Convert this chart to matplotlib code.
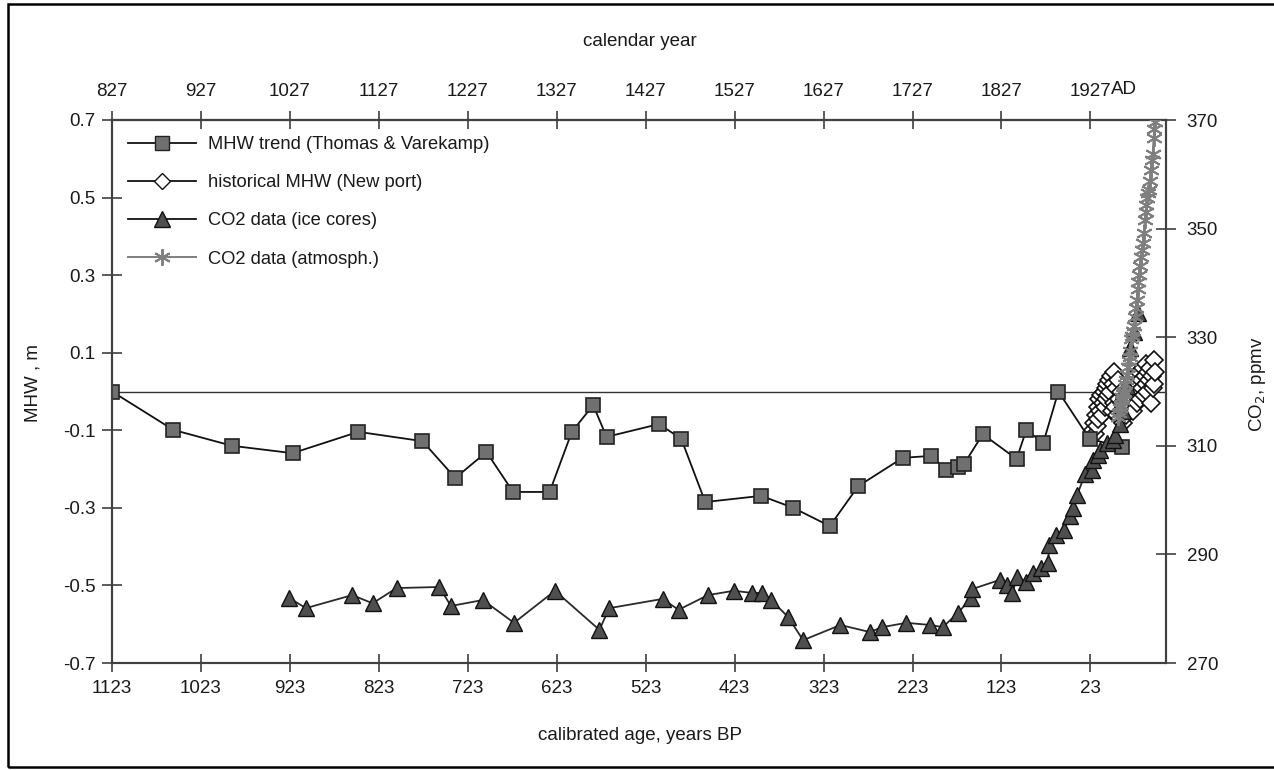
import matplotlib
matplotlib.use("Agg")
import matplotlib.pyplot as plt
from matplotlib.lines import Line2D
from matplotlib.patches import Rectangle

plt.rcParams['font.family'] = ['Liberation Sans', 'DejaVu Sans']

# MHW trend (Thomas & Varekamp): age BP, MHW (m)
trend_bp = [1123, 1054, 988, 920, 846, 774, 737, 702, 672, 631, 606, 582, 567,
            508, 483, 456, 393, 357, 316, 284, 234, 202, 185, 172, 165, 144,
            106, 95, 76, 59, 24, -12]
trend_mhw = [0.00, -0.099, -0.140, -0.159, -0.104, -0.128, -0.223, -0.156,
             -0.259, -0.259, -0.104, -0.035, -0.117, -0.084, -0.122, -0.285,
             -0.269, -0.300, -0.347, -0.244, -0.171, -0.166, -0.202, -0.195,
             -0.187, -0.110, -0.174, -0.099, -0.133, 0.000, -0.122, -0.143]

# historical MHW (Newport), 1930-2000
newport_year = list(range(1930, 2001))
newport_mhw = [-0.10, -0.08, -0.11, -0.06, -0.09, -0.04, -0.07, -0.02, -0.05, -0.01,
               -0.06, -0.03, 0.00, -0.04, 0.01, -0.02, 0.02, -0.01, 0.03, 0.00,
               0.04, -0.05, 0.02, -0.03, 0.05, -0.04, 0.01, -0.06, 0.03, -0.02,
               -0.07, 0.00, -0.05, -0.03, -0.08, -0.04, -0.02, -0.06, -0.01, -0.03,
               0.01, -0.04, 0.02, -0.02, 0.00, -0.05, 0.03, -0.01, 0.04, -0.03,
               0.02, 0.00, 0.05, -0.02, 0.03, 0.01, 0.06, -0.01, 0.04, 0.02,
               0.07, 0.00, 0.05, 0.03, 0.06, -0.03, 0.04, 0.01, 0.08, 0.02,
               0.05]

# CO2 data (ice cores): age BP, ppmv
ice_bp = [924, 905, 853, 830, 803, 755, 742, 706, 671, 625, 575, 564, 504, 486,
          453, 424, 403, 392, 382, 363, 346, 304, 271, 257, 230, 203, 189, 172,
          157, 156, 125, 117, 111, 105, 95, 87, 79, 71, 69, 62, 53, 46, 42, 38,
          29, 21, 20, 15, 12, 4, -2, -5, -10, -14, -18, -22, -26, -30]
ice_co2 = [282.0, 280.1, 282.5, 281.0, 283.8, 284.0, 280.5, 281.6, 277.4, 283.3,
           276.1, 280.1, 281.8, 279.8, 282.5, 283.3, 282.9, 282.9, 281.6, 278.5,
           274.2, 277.0, 275.7, 276.6, 277.4, 277.0, 276.6, 279.2, 282.0, 283.6,
           285.3, 284.4, 282.9, 285.8, 284.9, 286.6, 287.5, 288.4, 291.7, 293.6,
           294.5, 297.1, 298.5, 300.9, 304.8, 305.5, 307.4, 308.3, 309.2, 310.5,
           311.1, 312.0, 314.0, 316.5, 321.0, 328.0, 331.0, 334.5]

# CO2 data (atmospheric), 1958-2000
atm_year = list(range(1958, 2001))
atm_co2 = [315.3, 316.0, 316.9, 317.6, 318.5, 319.0, 319.6, 320.0, 321.4, 322.2,
           323.0, 324.6, 325.7, 326.3, 327.5, 329.7, 330.2, 331.1, 332.0, 333.8,
           335.4, 336.8, 338.8, 340.1, 341.5, 343.1, 344.7, 346.1, 347.4, 349.2,
           351.6, 353.1, 354.4, 355.6, 356.5, 357.1, 358.8, 360.8, 362.6, 363.7,
           366.7, 368.4, 369.6]

bp_ticks = [1123, 1023, 923, 823, 723, 623, 523, 423, 323, 223, 123, 23]
cal_ticks = [827, 927, 1027, 1127, 1227, 1327, 1427, 1527, 1627, 1727, 1827, 1927]
mhw_ticks = [-0.7, -0.5, -0.3, -0.1, 0.1, 0.3, 0.5, 0.7]
co2_ticks = [270, 290, 310, 330, 350, 370]


def main():
    W, H = 1274, 770
    fig = plt.figure(figsize=(W / 100, H / 100), dpi=100)
    ax = fig.add_axes([112 / W, 1 - 663 / H, (1166 - 112) / W, (663 - 120) / H])

    sq_face = '#707070'
    tri_face = '#4f4f4f'
    atm_col = '#7f7f7f'
    spine_col = '#404040'
    txt_col = '#1a1a1a'

    ax.axhline(0, color='#333333', lw=1.0, zorder=1)

    newport_bp = [1950 - y for y in newport_year]
    ax.plot(newport_bp, newport_mhw, ls='none', marker='D', ms=9, mfc='white',
            mec='#111111', mew=1.2, zorder=3)
    ax.plot(trend_bp, trend_mhw, color='#111111', lw=1.3, marker='s', ms=10,
            mfc=sq_face, mec='#222222', mew=1.2, zorder=4)

    ax.set_xlim(1123, -62)
    ax.set_ylim(-0.7, 0.7)
    ax.set_xticks(bp_ticks)
    ax.set_yticks(mhw_ticks)
    ax.set_yticklabels([f"{v:.1f}" for v in mhw_ticks])

    ax2 = ax.twinx()
    ax2.plot(ice_bp, ice_co2, color='#2a2a2a', lw=1.3, marker='^', ms=11,
             mfc=tri_face, mec='#111111', mew=1.0, zorder=3)
    atm_bp = [1950 - y for y in atm_year]
    ax2.plot(atm_bp, atm_co2, color=atm_col, lw=1.4, marker=(6, 2, 0), ms=12,
             mec=atm_col, mew=1.4, zorder=4)
    ax2.set_ylim(270, 370)
    ax2.set_yticks(co2_ticks)

    secax = ax.secondary_xaxis('top', functions=(lambda x: 1950 - x, lambda x: 1950 - x))
    secax.set_xticks(cal_ticks)

    for a in (ax, ax2, secax):
        for s in a.spines.values():
            s.set_color(spine_col)
            s.set_linewidth(1.5)

    ax.tick_params(axis='x', direction='inout', length=13, width=1.2, pad=6,
                   labelsize=13.5, color=spine_col, labelcolor=txt_col)
    ax.tick_params(axis='y', direction='inout', length=14, width=1.2, pad=5,
                   labelsize=13.5, color=spine_col, labelcolor=txt_col)
    ax2.tick_params(axis='y', direction='inout', length=14, width=1.2, pad=8,
                    labelsize=13.5, color=spine_col, labelcolor=txt_col)
    secax.tick_params(axis='x', direction='inout', length=13, width=1.2, pad=8,
                      labelsize=13.5, color=spine_col, labelcolor=txt_col)

    fig.text(1111 / W, 1 - 90 / H, "AD", ha='left', va='center', fontsize=13.5,
             color=txt_col)
    fig.text(640 / W, 1 - 42 / H, "calendar year", ha='center', va='center',
             fontsize=13.5, color=txt_col)
    fig.text(640 / W, 1 - 735 / H, "calibrated age, years BP", ha='center',
             va='center', fontsize=13.5, color=txt_col)
    fig.text(33 / W, 1 - 383 / H, "MHW , m", ha='center', va='center', rotation=90,
             fontsize=13.5, color=txt_col)
    fig.text(1257 / W, 1 - 384 / H, "CO$_2$, ppmv", ha='center', va='center',
             rotation=90, fontsize=13.5, color=txt_col)

    handles = [
        Line2D([], [], color='#111111', lw=1.3, marker='s', ms=10, mfc=sq_face,
               mec='#222222'),
        Line2D([], [], color='#111111', lw=1.3, marker='D', ms=8, mfc='white',
               mec='#111111'),
        Line2D([], [], color='#111111', lw=1.3, marker='^', ms=11, mfc=tri_face,
               mec='#111111'),
        Line2D([], [], color=atm_col, lw=1.4, marker=(6, 2, 0), ms=12, mec=atm_col,
               mew=1.4),
    ]
    labels = ["MHW trend (Thomas & Varekamp)", "historical MHW (New port)",
              "CO2 data (ice cores)", "CO2 data (atmosph.)"]
    ax2.legend(handles, labels, loc='upper left', bbox_to_anchor=(0.015, 0.97),
               frameon=False, fontsize=13.2, handlelength=3.7, handletextpad=0.7,
               labelspacing=1.15, borderpad=0, borderaxespad=0, numpoints=1,
               labelcolor=txt_col)

    fig.patches.append(Rectangle((8 / W, 3 / H), (W + 20) / W, 763 / H,
                                 transform=fig.transFigure, fill=False,
                                 ec='black', lw=1.8))

    fig.savefig("out.png", dpi=100)


if __name__ == "__main__":
    main()
